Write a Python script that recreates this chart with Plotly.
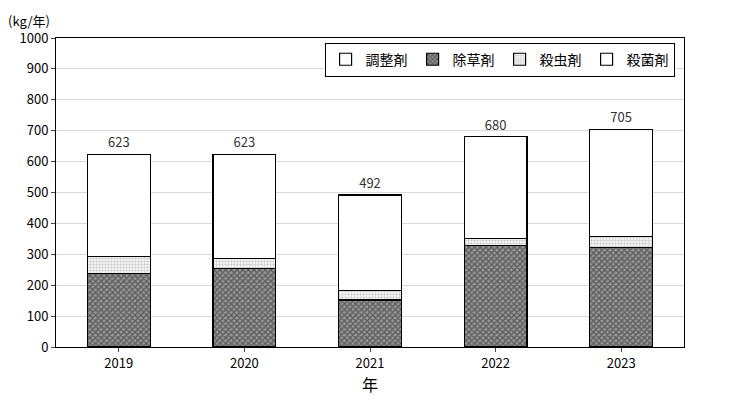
import plotly.graph_objects as go

years = ["2019", "2020", "2021", "2022", "2023"]
totals = [623, 623, 492, 680, 705]
herbicide = [238, 255, 152, 328, 321]
insecticide = [55, 32, 31, 24, 36]
regulator = [None, None, None, None, None]
fungicide = [t - h - i for t, h, i in zip(totals, herbicide, insecticide)]

font = "Noto Sans CJK JP"
line = dict(color="black", width=1.2)
fig = go.Figure()
fig.add_bar(x=years, y=herbicide, name="除草剤",
            marker=dict(color="white", line=line,
                        pattern=dict(shape="x", fgcolor="#222", bgcolor="#999", size=4, solidity=0.6)),
            legendrank=2)
fig.add_bar(x=years, y=insecticide, name="殺虫剤",
            marker=dict(color="white", line=line,
                        pattern=dict(shape=".", fgcolor="#999", bgcolor="white", size=3, solidity=0.5)),
            legendrank=3)
fig.add_bar(x=years, y=fungicide, name="殺菌剤",
            marker=dict(color="white", line=line), legendrank=4,
            text=[str(t) for t in totals], textposition="outside",
            textfont=dict(size=13, color="#333"), cliponaxis=False)
fig.add_bar(x=years, y=regulator, name="調整剤",
            marker=dict(color="white", line=line), legendrank=1)

fig.update_layout(
    barmode="stack", bargap=0.5, width=736, height=402,
    paper_bgcolor="white", plot_bgcolor="white",
    font=dict(family=font, size=13, color="black"),
    margin=dict(l=48, r=60, t=30, b=63),
    legend=dict(orientation="h", x=0.985, y=0.985, xanchor="right", yanchor="top",
                bordercolor="black", borderwidth=1, font=dict(size=14),
                traceorder="normal"),
    xaxis=dict(title=dict(text="年", standoff=8), showline=True, linecolor="black",
               mirror=True, ticks="outside", ticklen=4),
    yaxis=dict(range=[0, 1000], dtick=100, showline=True, linecolor="black",
               mirror=True, gridcolor="#d9d9d9", ticks="outside", ticklen=4),
    annotations=[dict(text="(kg/年)", xref="paper", yref="paper", x=-0.08, y=1.02,
                      xanchor="left", yanchor="bottom", showarrow=False, font=dict(size=13))],
)
fig.write_html("out.html")
